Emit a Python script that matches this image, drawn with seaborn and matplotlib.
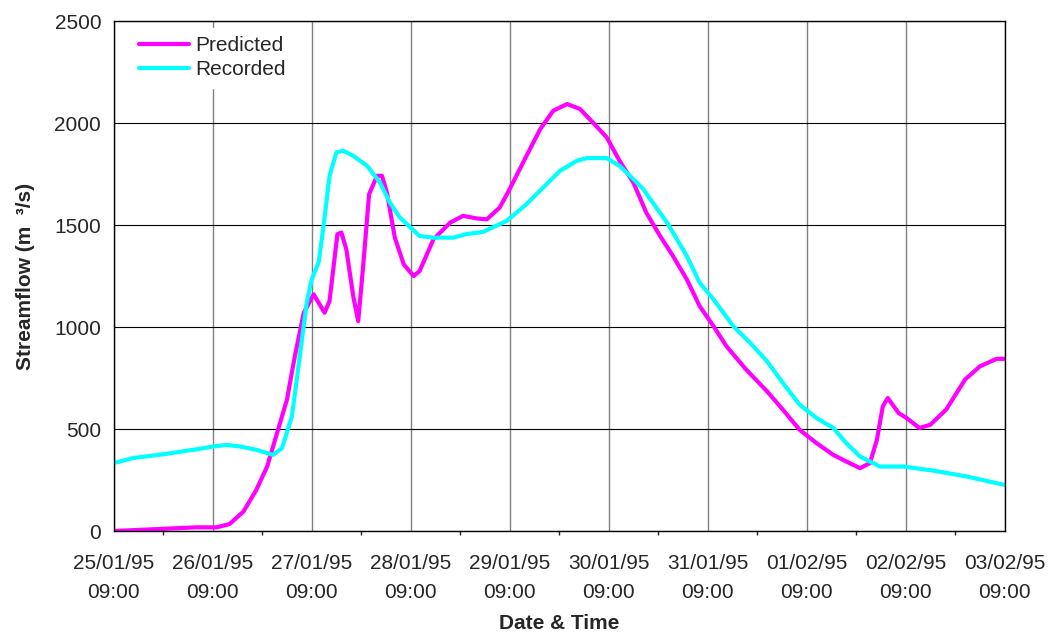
#!/usr/bin/env python3
"""
Predicted vs recorded streamflow, 25/01/95 - 03/02/95
"""

import pandas as pd
import matplotlib
matplotlib.use("Agg")
import matplotlib.pyplot as plt
import seaborn as sns

# days since 25/01/95 09:00, flow in m3/s
recorded_days = [0.0, 0.2, 0.53, 0.87, 1.0, 1.14, 1.28, 1.44, 1.61, 1.70, 1.80,
                 1.88, 1.95, 2.0, 2.07, 2.12, 2.18, 2.25, 2.32, 2.42, 2.56, 2.69,
                 2.79, 2.89, 3.0, 3.09, 3.23, 3.43, 3.56, 3.73, 3.97, 4.17, 4.34,
                 4.51, 4.68, 4.78, 4.98, 5.11, 5.25, 5.35, 5.48, 5.59, 5.69, 5.79,
                 5.92, 6.06, 6.26, 6.43, 6.60, 6.76, 6.93, 7.10, 7.27, 7.40, 7.54,
                 7.74, 7.98, 8.28, 8.62, 9.0]
recorded_flow = [333, 358, 378, 403, 414, 422, 414, 398, 373, 406, 562,
                 857, 1120, 1233, 1317, 1495, 1741, 1856, 1864, 1839, 1790, 1708,
                 1610, 1537, 1487, 1446, 1438, 1438, 1455, 1466, 1520, 1602, 1684,
                 1766, 1815, 1828, 1828, 1790, 1725, 1676, 1586, 1512, 1430, 1348,
                 1217, 1135, 1004, 922, 832, 726, 619, 554, 505, 431, 365,
                 316, 316, 296, 267, 226]

predicted_days = [0.0, 0.47, 0.84, 1.04, 1.17, 1.31, 1.44, 1.55, 1.65, 1.75, 1.83,
                  1.92, 2.02, 2.13, 2.18, 2.26, 2.30, 2.35, 2.42, 2.47, 2.52, 2.58,
                  2.66, 2.71, 2.76, 2.84, 2.93, 3.03, 3.09, 3.23, 3.40, 3.53, 3.67,
                  3.77, 3.90, 4.00, 4.17, 4.31, 4.44, 4.58, 4.71, 4.84, 4.98, 5.11,
                  5.25, 5.38, 5.52, 5.65, 5.79, 5.92, 6.06, 6.19, 6.39, 6.60, 6.76,
                  6.93, 7.10, 7.27, 7.40, 7.54, 7.64, 7.71, 7.77, 7.82, 7.93, 8.01,
                  8.14, 8.25, 8.41, 8.60, 8.75, 8.92, 9.0]
predicted_flow = [0, 10, 18, 18, 34, 95, 201, 316, 480, 644, 857,
                  1070, 1160, 1070, 1127, 1455, 1463, 1381, 1151, 1029, 1299, 1651,
                  1741, 1741, 1659, 1438, 1307, 1250, 1274, 1430, 1512, 1545, 1532,
                  1528, 1586, 1676, 1839, 1971, 2060, 2093, 2069, 2003, 1930, 1815,
                  1708, 1561, 1446, 1348, 1233, 1102, 1004, 906, 791, 685, 595,
                  496, 431, 373, 341, 308, 333, 447, 611, 652, 578, 554,
                  505, 521, 595, 742, 807, 844, 844]

tick_labels = ["25/01/95\n09:00", "26/01/95\n09:00", "27/01/95\n09:00",
               "28/01/95\n09:00", "29/01/95\n09:00", "30/01/95\n09:00",
               "31/01/95\n09:00", "01/02/95\n09:00", "02/02/95\n09:00",
               "03/02/95\n09:00"]

sns.set_style("white")
plt.rcParams['font.family'] = ['Liberation Sans', 'DejaVu Sans']

df = pd.concat([
    pd.DataFrame({"day": predicted_days, "flow": predicted_flow, "series": "Predicted"}),
    pd.DataFrame({"day": recorded_days, "flow": recorded_flow, "series": "Recorded"}),
])

fig = plt.figure(figsize=(10.53, 6.37), dpi=100)
ax = fig.add_axes([0.108, 0.1664, 0.846, 0.8006])

sns.lineplot(data=df, x="day", y="flow", hue="series",
             palette={"Predicted": "#ff00ff", "Recorded": "#00ffff"},
             linewidth=3, sort=False, ax=ax)

ax.set_xlim(0, 9)
ax.set_ylim(0, 2500)
ax.set_xticks(range(10))
ax.set_xticklabels(tick_labels, fontsize=15, linespacing=1.7)
ax.set_xticks([d + 0.5 for d in range(9)], minor=True)
ax.set_yticks(range(0, 2501, 500))
ax.tick_params(axis="y", labelsize=15, direction="inout", length=8, width=1, pad=5)
ax.tick_params(axis="x", which="major", direction="out", length=4.5, width=1, pad=12)
ax.tick_params(axis="x", which="minor", direction="out", length=3, width=1, bottom=True)

ax.xaxis.grid(True, color="#808080", linewidth=1)
ax.yaxis.grid(True, color="#000000", linewidth=0.8)
ax.set_axisbelow(True)
for sp in ax.spines.values():
    sp.set_color("black")
    sp.set_linewidth(1)

ax.set_xlabel("Date & Time", fontsize=15, fontweight="bold", labelpad=8)
ax.set_ylabel("Streamflow (m  \u00b3/s)", fontsize=15, fontweight="bold", labelpad=14)

leg = ax.legend(loc="upper left", bbox_to_anchor=(0.014, 0.995), frameon=True,
                fontsize=15, handlelength=2.4, borderaxespad=0.2,
                labelspacing=0.25, handletextpad=0.3)
leg.get_frame().set_edgecolor("white")
leg.get_frame().set_facecolor("white")
leg.get_frame().set_alpha(1)
leg.get_frame().set_boxstyle("square", pad=0)
for line in leg.get_lines():
    line.set_linewidth(3)

fig.savefig("out.png", dpi=100)
